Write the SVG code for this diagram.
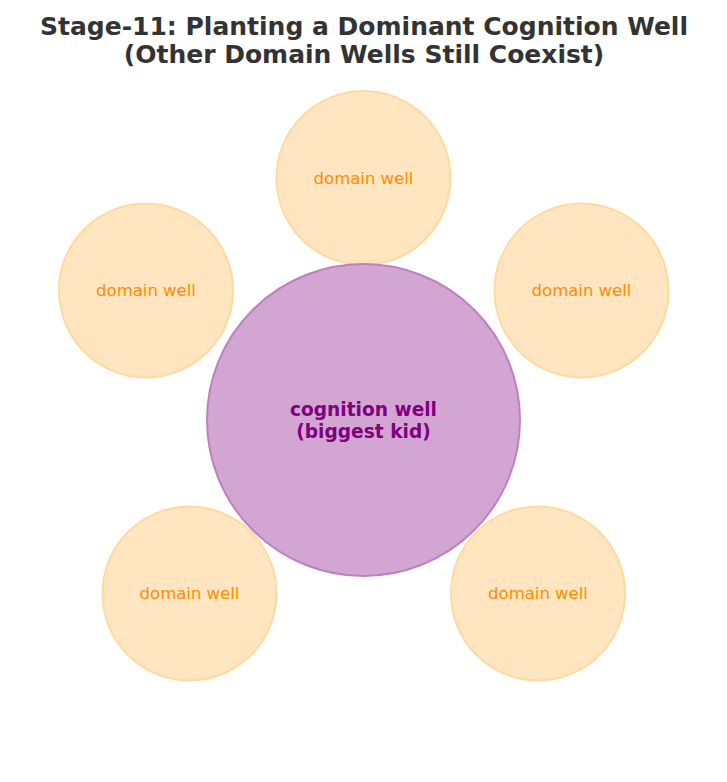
<svg xmlns="http://www.w3.org/2000/svg" width="727" height="782" viewBox="0 0 727 782">
<style>
.title{font-family:"DejaVu Sans",sans-serif;font-weight:bold;font-size:25px;fill:#333333;text-anchor:middle}
.dw circle{fill:#FFE6C0;stroke:#FFD9A0;stroke-width:2}
.dw text{font-family:"DejaVu Sans",sans-serif;font-size:16.5px;fill:#FF8C00;text-anchor:middle;dominant-baseline:central}
.cw ellipse{fill:#D2A5D3;stroke:#BF80C0;stroke-width:2}
.cw text{font-family:"DejaVu Sans",sans-serif;font-weight:bold;font-size:18.6px;fill:#800080;text-anchor:middle;dominant-baseline:central}
</style>
<rect width="727" height="782" fill="#ffffff"/>
<text class="title" x="364" y="35">Stage-11: Planting a Dominant Cognition Well</text>
<text class="title" x="364" y="63">(Other Domain Wells Still Coexist)</text>
<g id="connectors"/>
<g id="dw-top" class="dw"><circle cx="363.5" cy="178" r="87"/><text x="363.5" y="178">domain well</text></g>
<g id="dw-left" class="dw"><circle cx="146" cy="290.5" r="87"/><text x="146" y="290.5">domain well</text></g>
<g id="dw-right" class="dw"><circle cx="581.5" cy="290.5" r="87"/><text x="581.5" y="290.5">domain well</text></g>
<g id="dw-bl" class="dw"><circle cx="189.5" cy="593.5" r="87"/><text x="189.5" y="593.5">domain well</text></g>
<g id="dw-br" class="dw"><circle cx="538" cy="593.5" r="87"/><text x="538" y="593.5">domain well</text></g>
<g id="cognition" class="cw"><ellipse cx="363.5" cy="420" rx="156.5" ry="156"/><text x="363.5" y="409">cognition well</text><text x="363.5" y="431">(biggest kid)</text></g>
</svg>
